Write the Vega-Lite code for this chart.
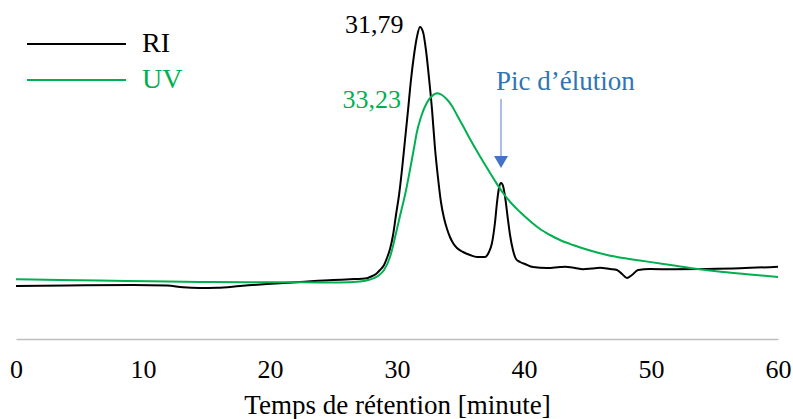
{
  "$schema": "https://vega.github.io/schema/vega-lite/v6.json",
  "width": 762,
  "height": 329,
  "autosize": {"type": "none"},
  "padding": {"left": 16, "top": 10, "right": 15, "bottom": 80},
  "background": "white",
  "config": {"view": {"stroke": null}},
  "datasets": {
    "curves": [
      {"t": 0, "v": 53, "series": "RI"},
      {"t": 4.02, "v": 53.5, "series": "RI"},
      {"t": 9.21, "v": 54, "series": "RI"},
      {"t": 11.89, "v": 53.5, "series": "RI"},
      {"t": 13.15, "v": 51.7, "series": "RI"},
      {"t": 14.49, "v": 51, "series": "RI"},
      {"t": 15.83, "v": 51.3, "series": "RI"},
      {"t": 17.64, "v": 53, "series": "RI"},
      {"t": 19.76, "v": 55, "series": "RI"},
      {"t": 22.36, "v": 57, "series": "RI"},
      {"t": 24.96, "v": 59, "series": "RI"},
      {"t": 26.3, "v": 59.7, "series": "RI"},
      {"t": 27.64, "v": 60.7, "series": "RI"},
      {"t": 27.87, "v": 62, "series": "RI"},
      {"t": 28.35, "v": 65, "series": "RI"},
      {"t": 28.66, "v": 69, "series": "RI"},
      {"t": 28.98, "v": 74, "series": "RI"},
      {"t": 29.21, "v": 81, "series": "RI"},
      {"t": 29.45, "v": 90, "series": "RI"},
      {"t": 29.69, "v": 104, "series": "RI"},
      {"t": 29.92, "v": 124, "series": "RI"},
      {"t": 30.16, "v": 144, "series": "RI"},
      {"t": 30.39, "v": 169, "series": "RI"},
      {"t": 30.63, "v": 199, "series": "RI"},
      {"t": 30.87, "v": 229, "series": "RI"},
      {"t": 31.1, "v": 259, "series": "RI"},
      {"t": 31.34, "v": 284, "series": "RI"},
      {"t": 31.57, "v": 302, "series": "RI"},
      {"t": 31.81, "v": 312, "series": "RI"},
      {"t": 32.05, "v": 307, "series": "RI"},
      {"t": 32.28, "v": 289, "series": "RI"},
      {"t": 32.52, "v": 261, "series": "RI"},
      {"t": 32.76, "v": 229, "series": "RI"},
      {"t": 32.99, "v": 191, "series": "RI"},
      {"t": 33.23, "v": 161, "series": "RI"},
      {"t": 33.46, "v": 137, "series": "RI"},
      {"t": 33.7, "v": 121, "series": "RI"},
      {"t": 33.94, "v": 110, "series": "RI"},
      {"t": 34.17, "v": 102, "series": "RI"},
      {"t": 34.41, "v": 96, "series": "RI"},
      {"t": 34.72, "v": 91, "series": "RI"},
      {"t": 35.2, "v": 87, "series": "RI"},
      {"t": 35.75, "v": 84, "series": "RI"},
      {"t": 36.3, "v": 82, "series": "RI"},
      {"t": 36.93, "v": 82, "series": "RI"},
      {"t": 37.24, "v": 87, "series": "RI"},
      {"t": 37.48, "v": 96, "series": "RI"},
      {"t": 37.72, "v": 117, "series": "RI"},
      {"t": 37.87, "v": 136, "series": "RI"},
      {"t": 38.03, "v": 151, "series": "RI"},
      {"t": 38.19, "v": 156, "series": "RI"},
      {"t": 38.35, "v": 153, "series": "RI"},
      {"t": 38.5, "v": 143, "series": "RI"},
      {"t": 38.74, "v": 119, "series": "RI"},
      {"t": 38.9, "v": 104, "series": "RI"},
      {"t": 39.13, "v": 89, "series": "RI"},
      {"t": 39.37, "v": 80, "series": "RI"},
      {"t": 39.69, "v": 77, "series": "RI"},
      {"t": 40.08, "v": 75, "series": "RI"},
      {"t": 40.71, "v": 72, "series": "RI"},
      {"t": 41.81, "v": 71, "series": "RI"},
      {"t": 42.83, "v": 72, "series": "RI"},
      {"t": 43.23, "v": 72.3, "series": "RI"},
      {"t": 44.02, "v": 71, "series": "RI"},
      {"t": 44.65, "v": 69.7, "series": "RI"},
      {"t": 45.35, "v": 70.5, "series": "RI"},
      {"t": 45.98, "v": 71.3, "series": "RI"},
      {"t": 46.77, "v": 70, "series": "RI"},
      {"t": 47.32, "v": 69, "series": "RI"},
      {"t": 47.72, "v": 65, "series": "RI"},
      {"t": 48.11, "v": 61, "series": "RI"},
      {"t": 48.5, "v": 64, "series": "RI"},
      {"t": 48.98, "v": 69, "series": "RI"},
      {"t": 49.92, "v": 70, "series": "RI"},
      {"t": 51.73, "v": 69.7, "series": "RI"},
      {"t": 54.41, "v": 70, "series": "RI"},
      {"t": 57.01, "v": 70.7, "series": "RI"},
      {"t": 60, "v": 72.3, "series": "RI"},
      {"t": 0, "v": 59.7, "series": "UV"},
      {"t": 3.46, "v": 59, "series": "UV"},
      {"t": 6.61, "v": 58.5, "series": "UV"},
      {"t": 10.55, "v": 57.7, "series": "UV"},
      {"t": 14.49, "v": 57, "series": "UV"},
      {"t": 18.43, "v": 56.7, "series": "UV"},
      {"t": 22.36, "v": 56.7, "series": "UV"},
      {"t": 25.51, "v": 56.5, "series": "UV"},
      {"t": 27.09, "v": 57.5, "series": "UV"},
      {"t": 27.87, "v": 59.5, "series": "UV"},
      {"t": 28.5, "v": 63, "series": "UV"},
      {"t": 28.98, "v": 69, "series": "UV"},
      {"t": 29.45, "v": 82, "series": "UV"},
      {"t": 29.98, "v": 109, "series": "UV"},
      {"t": 30.31, "v": 127, "series": "UV"},
      {"t": 30.63, "v": 144, "series": "UV"},
      {"t": 31.02, "v": 169, "series": "UV"},
      {"t": 31.34, "v": 191, "series": "UV"},
      {"t": 31.55, "v": 206, "series": "UV"},
      {"t": 31.89, "v": 222, "series": "UV"},
      {"t": 32.34, "v": 236, "series": "UV"},
      {"t": 32.68, "v": 242, "series": "UV"},
      {"t": 33.2, "v": 245.7, "series": "UV"},
      {"t": 33.54, "v": 244, "series": "UV"},
      {"t": 33.94, "v": 239.5, "series": "UV"},
      {"t": 34.33, "v": 233, "series": "UV"},
      {"t": 34.72, "v": 224, "series": "UV"},
      {"t": 35.2, "v": 213, "series": "UV"},
      {"t": 35.75, "v": 200, "series": "UV"},
      {"t": 36.38, "v": 186, "series": "UV"},
      {"t": 37.09, "v": 171, "series": "UV"},
      {"t": 37.72, "v": 158, "series": "UV"},
      {"t": 38.35, "v": 146, "series": "UV"},
      {"t": 39.06, "v": 135, "series": "UV"},
      {"t": 39.69, "v": 127, "series": "UV"},
      {"t": 40.47, "v": 118, "series": "UV"},
      {"t": 41.26, "v": 110, "series": "UV"},
      {"t": 42.05, "v": 104, "series": "UV"},
      {"t": 42.83, "v": 99, "series": "UV"},
      {"t": 43.86, "v": 94, "series": "UV"},
      {"t": 45.2, "v": 88.5, "series": "UV"},
      {"t": 46.54, "v": 84, "series": "UV"},
      {"t": 47.8, "v": 81, "series": "UV"},
      {"t": 49.13, "v": 78.5, "series": "UV"},
      {"t": 51.26, "v": 74.5, "series": "UV"},
      {"t": 53.07, "v": 71, "series": "UV"},
      {"t": 55.67, "v": 67, "series": "UV"},
      {"t": 57.8, "v": 64.5, "series": "UV"},
      {"t": 60, "v": 62, "series": "UV"}
    ],
    "labels": [
      {"t": 30.51, "v": 314, "label": "31,79", "series": "RI"},
      {"t": 30.31, "v": 239, "label": "33,23", "series": "UV"}
    ],
    "arrow": [
      {"t": 38.19, "v": 240, "v2": 179, "label": "Pic d’élution", "tl": 37.8, "vl": 257, "vh": 177}
    ]
  },
  "layer": [
    {
      "data": {"name": "curves"},
      "mark": {"type": "line", "strokeWidth": 2, "interpolate": "monotone"},
      "encoding": {
        "x": {
          "field": "t", "type": "quantitative",
          "scale": {"domain": [0, 60], "nice": false, "zero": false},
          "axis": {
            "values": [0, 10, 20, 30, 40, 50, 60],
            "format": "d",
            "grid": false,
            "ticks": false,
            "tickSize": 0,
            "domainColor": "#BFBFBF",
            "domainWidth": 1.5,
            "labelFont": "Liberation Serif",
            "labelFontSize": 26,
            "labelColor": "#000000",
            "labelPadding": 17,
            "labelBaseline": "top",
            "labelFlush": false,
            "title": "Temps de rétention [minute]",
            "titleFont": "Liberation Serif",
            "titleFontSize": 27,
            "titleFontWeight": "normal",
            "titleColor": "#000000",
            "titleBaseline": "alphabetic",
            "titleY": 74
          }
        },
        "y": {
          "field": "v", "type": "quantitative",
          "scale": {"domain": [0, 329], "nice": false, "zero": false},
          "axis": null
        },
        "color": {
          "field": "series", "type": "nominal",
          "scale": {"domain": ["RI", "UV"], "range": ["#000000", "#00B050"]},
          "legend": {
            "title": null,
            "orient": "none",
            "legendX": 10,
            "legendY": 20,
            "padding": 0,
            "symbolType": "stroke",
            "symbolSize": 9801,
            "symbolStrokeWidth": 2,
            "clipHeight": 28,
            "labelFont": "Liberation Serif",
            "labelFontSize": 28,
            "labelOffset": 15,
            "rowPadding": 8,
            "encode": {"labels": {"update": {"fill": {"scale": "color", "field": "value"}}}}
          }
        }
      }
    },
    {
      "data": {"name": "labels"},
      "mark": {"type": "text", "align": "right", "baseline": "middle", "font": "Liberation Serif", "fontSize": 26},
      "encoding": {
        "x": {"field": "t", "type": "quantitative"},
        "y": {"field": "v", "type": "quantitative"},
        "text": {"field": "label"},
        "color": {"field": "series", "type": "nominal", "legend": null}
      }
    },
    {
      "data": {"name": "arrow"},
      "mark": {"type": "rule", "color": "#8EA9DB", "strokeWidth": 1.5},
      "encoding": {
        "x": {"field": "t", "type": "quantitative"},
        "y": {"field": "v", "type": "quantitative"},
        "y2": {"field": "v2"}
      }
    },
    {
      "data": {"name": "arrow"},
      "mark": {"type": "point", "shape": "triangle-down", "filled": true, "color": "#4472C4", "size": 196, "opacity": 1},
      "encoding": {
        "x": {"field": "t", "type": "quantitative"},
        "y": {"field": "vh", "type": "quantitative"}
      }
    },
    {
      "data": {"name": "arrow"},
      "mark": {"type": "text", "align": "left", "baseline": "middle", "font": "Liberation Serif", "fontSize": 27, "color": "#2E75B6"},
      "encoding": {
        "x": {"field": "tl", "type": "quantitative"},
        "y": {"field": "vl", "type": "quantitative"},
        "text": {"field": "label"}
      }
    }
  ]
}
